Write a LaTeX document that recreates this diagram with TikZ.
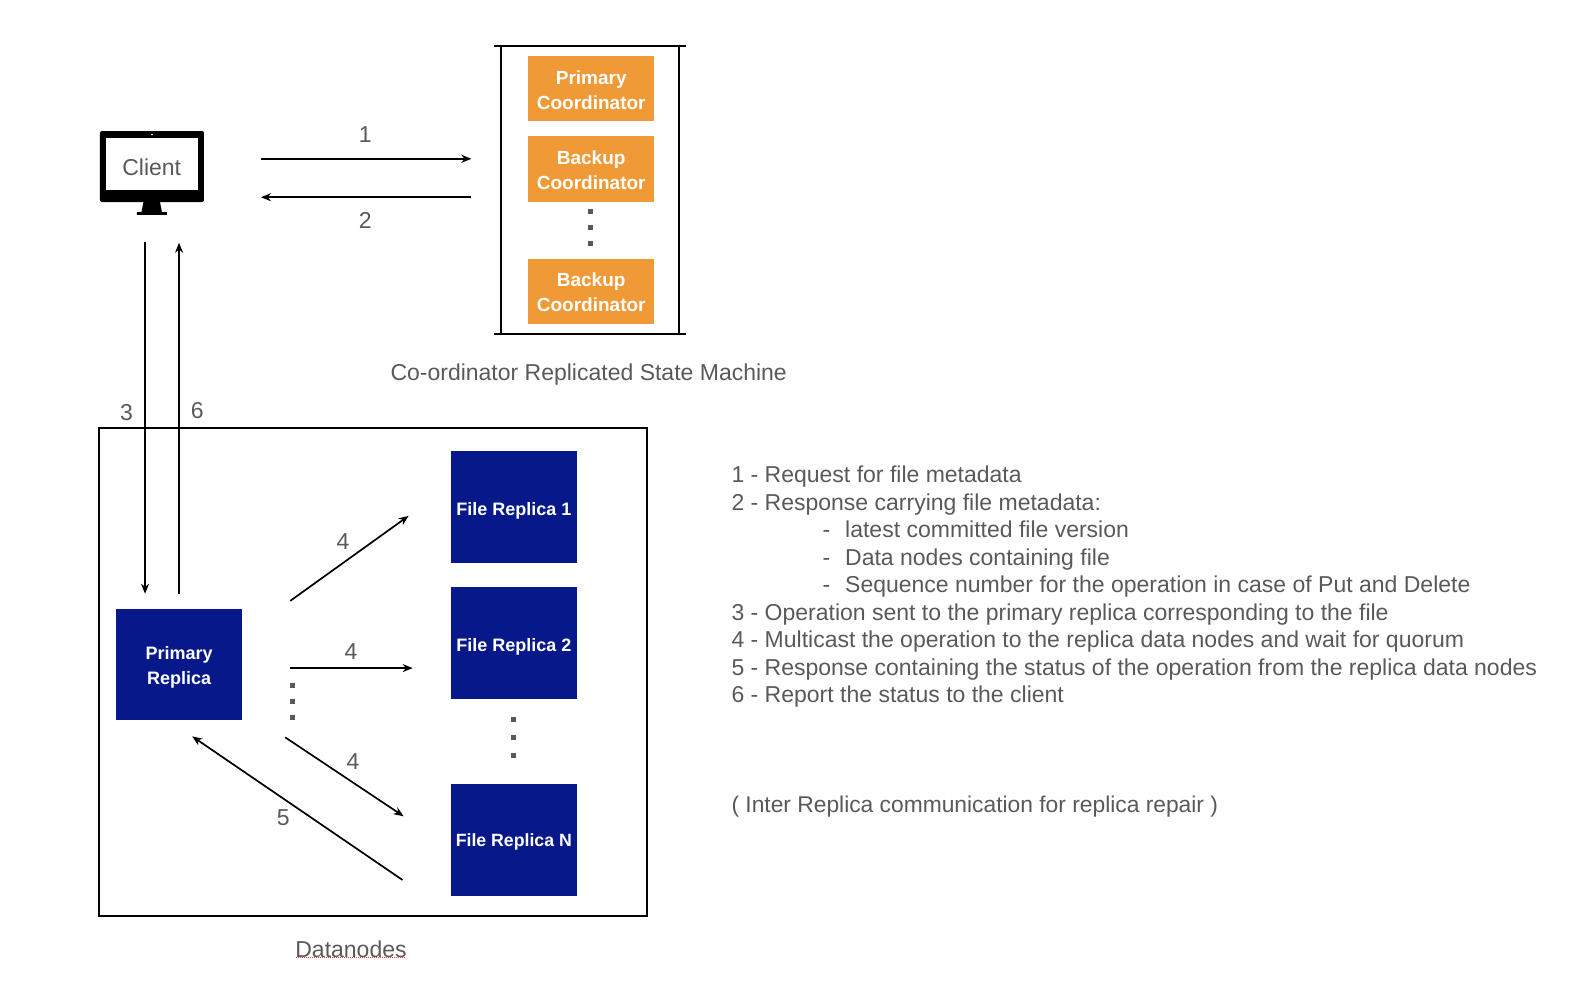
\documentclass[tikz,border=0pt]{standalone}
\usepackage{fontspec}
\setmainfont{Liberation Sans}
\usetikzlibrary{arrows.meta}
\definecolor{org}{HTML}{F09A37}
\definecolor{nvy}{HTML}{07198A}
\definecolor{txt}{HTML}{595959}
\newcommand{\lowered}[2]{\raisebox{-#1}[\height][\depth]{\begin{tabular}{@{}c@{}}#2\end{tabular}}}
\tikzset{
 x=1.0115pt,y=-1.0115pt,
 arr/.style={-{Stealth[length=10pt,width=8pt]},line width=1.7pt,black},
 frm/.style={line width=2pt,black},
 obox/.style={fill=org,text=white,font=\fontsize{19}{25}\selectfont\bfseries,inner sep=0pt,minimum width=126pt},
 nbox/.style={fill=nvy,text=white,font=\fontsize{18}{25}\selectfont\bfseries,inner sep=0pt,minimum width=126.5pt,minimum height=112pt},
 lab/.style={text=txt,font=\fontsize{23}{26}\selectfont,inner sep=0pt},
 vdot/.style={fill=txt,inner sep=0pt,minimum size=5pt},
}
\begin{document}
\begin{tikzpicture}
\useasboundingbox (0,0) rectangle (1568,984.7);
% client
\begin{scope}[x=1pt,y=-1pt]
\fill[black,rounded corners=2pt] (100,131) rectangle (204,202);
\fill[white] (106,138) rectangle (198,190);
\fill[white] (152,134.5) circle (0.9);
\fill[black] (143.5,202) -- (160,202) -- (162,212) -- (167,212) -- (167,215) -- (137,215) -- (137,212) -- (141.5,212) -- cycle;
\end{scope}
\node[lab] (client) at (150,165) {Client};
% coordinator frame
\coordinate (ca) at (488,45); \coordinate (cb) at (678,45);
\coordinate (cc) at (488,330); \coordinate (cd) at (678,330);
\coordinate (ce) at (495,45); \coordinate (cf) at (495,330);
\coordinate (cg) at (671,45); \coordinate (ch) at (671,330);
\draw[frm] (ca)--(cb); \draw[frm] (cc)--(cd); \draw[frm] (ce)--(cf); \draw[frm] (cg)--(ch);
\node[obox,minimum height=65.5pt] (pc) at (584.5,87.5) {\lowered{3pt}{Primary\\Coordinator}};
\node[obox,minimum height=66.5pt] (bc1) at (584.5,167) {\lowered{3pt}{Backup\\Coordinator}};
\node[obox,minimum height=65.5pt] (bc2) at (584.5,288) {\lowered{3pt}{Backup\\Coordinator}};
\foreach \y/\n in {209/a,225/b,241/c}{\node[vdot] (cd\n) at (584,\y) {};}
\node[lab] (crsm) at (582,370) {Co-ordinator Replicated State Machine};
% arrows client coordinator
\coordinate (a1s) at (258,157); \coordinate (a1e) at (466,157);
\coordinate (a2s) at (466,195); \coordinate (a2e) at (258,195);
\draw[arr] (a1s)--(a1e); \draw[arr] (a2s)--(a2e);
\node[lab] (l1) at (361,133) {1};
\node[lab] (l2) at (361,218) {2};
% datanodes
\coordinate (d1) at (98,423); \coordinate (d2) at (640,423);
\coordinate (d3) at (98,905.5); \coordinate (d4) at (640,905.5);
\draw[frm] (d1)--(d2)--(d4)--(d3)--cycle;
\node[nbox,minimum height=111pt] (pr) at (177,657) {\lowered{2pt}{Primary\\Replica}};
\node[nbox] (f1) at (508,501.5) {\lowered{3pt}{File Replica 1}};
\node[nbox] (f2) at (508,636) {\lowered{3pt}{File Replica 2}};
\node[nbox,font=\fontsize{17.7}{25}\selectfont\bfseries] (fn) at (508,830.5) {\lowered{1.5pt}{File Replica N}};
\foreach \y/\n in {678/a,694/b,709/c}{\node[vdot] (pd\n) at (289,\y) {};}
\foreach \y/\n in {711/a,729/b,747/c}{\node[vdot] (fd\n) at (508,\y) {};}
\node[lab] (dn) at (347,938) {Datanodes};
\draw[red!80!white,densely dotted,line width=1pt] (293,947)--(401,947);
% arrows 3,6
\coordinate (a3s) at (143.4,239); \coordinate (a3e) at (143.4,587);
\coordinate (a6s) at (177,587); \coordinate (a6e) at (177,240);
\draw[arr] (a3s)--(a3e); \draw[arr] (a6s)--(a6e);
\node[lab] (l3) at (125,408) {3};
\node[lab] (l6) at (195,406) {6};
% arrows 4,5
\coordinate (a41s) at (287,594); \coordinate (a41e) at (404,510);
\coordinate (a42s) at (287,660.5); \coordinate (a42e) at (408,660.5);
\coordinate (a43s) at (282,729); \coordinate (a43e) at (399,807);
\coordinate (a5s) at (398,870); \coordinate (a5e) at (190,728);
\draw[arr] (a41s)--(a41e); \draw[arr] (a42s)--(a42e); \draw[arr] (a43s)--(a43e); \draw[arr] (a5s)--(a5e);
\node[lab] (l41) at (339,535) {4};
\node[lab] (l42) at (347,644) {4};
\node[lab] (l43) at (349,753) {4};
\node[lab] (l5) at (280,808) {5};
% legend
\node[lab,anchor=west] (t1) at (723,471.5) {1 - Request for file metadata};
\node[lab,anchor=west] (t2) at (723,499) {2 - Response carrying file metadata:};
\node[lab,anchor=west] (t2a) at (813,523.5) {-\hspace{15pt}latest committed file version};
\node[lab,anchor=west] (t2b) at (813,553) {-\hspace{15pt}Data nodes containing file};
\node[lab,anchor=west] (t2c) at (813,580) {-\hspace{15pt}Sequence number for the operation in case of Put and Delete};
\node[lab,anchor=west] (t3) at (723,607.5) {3 - Operation sent to the primary replica corresponding to the file};
\node[lab,anchor=west] (t4) at (723,634.5) {4 - Multicast the operation to the replica data nodes and wait for quorum};
\node[lab,anchor=west] (t5) at (723,662) {5 - Response containing the status of the operation from the replica data nodes};
\node[lab,anchor=west] (t6) at (723,689) {6 - Report the status to the client};
\node[lab,anchor=west,font=\fontsize{22.8}{26}\selectfont] (t7) at (723,797) {( Inter Replica communication for replica repair )};
\end{tikzpicture}
\end{document}
